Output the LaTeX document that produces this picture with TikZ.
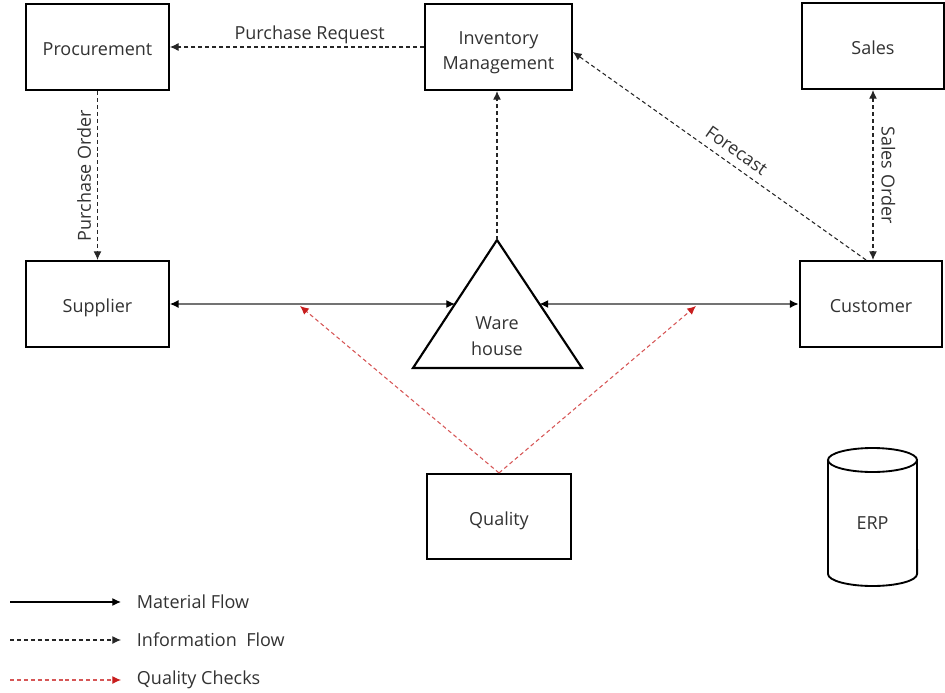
\documentclass[tikz,border=0pt]{standalone}
\usepackage{fontspec}
\setmainfont{Open Sans}
\usepackage{xcolor}
\usepackage{tikz}
\usetikzlibrary{arrows.meta,calc}

\definecolor{qcred}{RGB}{200,30,30}
\definecolor{txtgray}{RGB}{50,50,50}

\begin{document}
\begin{tikzpicture}[x=0.75pt, y=-0.75pt,
  box/.style={rectangle, draw=black, line width=1.6pt, fill=white, align=center,
             minimum width=107pt, minimum height=64.5pt, text height=13pt, text depth=0pt,
             font=\fontsize{13.5}{19}\selectfont, text=txtgray},
  lbl/.style={font=\fontsize{13.5}{16}\selectfont, text=txtgray, inner sep=2pt},
  mat/.style={<->, >={Latex[length=6.5pt,width=6pt,black]}, line width=0.9pt, black!55},
  inf/.style={->, >={Latex[length=6.5pt,width=6pt]}, line width=0.8pt,
             dash pattern=on 3pt off 2.2pt, black!85},
  qc/.style={->, >={Latex[length=6.5pt,width=6pt,qcred]}, line width=0.8pt,
             dash pattern=on 3pt off 2.2pt, qcred!75},
]
\useasboundingbox (0,0) rectangle (945,692);

% --- top row ---
\node[box] (proc) at (97.5,47) {Procurement};
\node[box, minimum width=110pt, text height={}, text depth={}] (inv) at (498.5,47)
  {\raisebox{-3.5pt}[\height][\depth]{\begin{tabular}{@{}c@{}}Inventory\\Management\end{tabular}}};
\node[box] (sales) at (873,46) {Sales};

% --- middle row ---
\node[box] (supp) at (97.5,304) {Supplier};
\node[box] (cust) at (871,304) {Customer};

% --- warehouse ---
\coordinate (whtop) at (497,240);
\coordinate (whbl) at (413,368);
\coordinate (whbr) at (582,368);
\draw[line width=1.6pt] (whtop) -- (whbl) -- (whbr) -- cycle;
\node[lbl, align=center, font=\fontsize{13.5}{19.5}\selectfont] (wh) at (497,336) {Ware\\house};
\coordinate (whL) at ($(whtop)!0.5!(whbl)$);
\coordinate (whR) at ($(whtop)!0.5!(whbr)$);

% --- quality and ERP ---
\node[box, minimum width=108pt, minimum height=63.75pt] (qual) at (499,516.5) {Quality};
\draw[line width=1.4pt] (872.5,460) ellipse [x radius=33.4pt, y radius=9pt];
\draw[line width=1.4pt] (828,460) -- (828,574)
  arc[start angle=180, end angle=360, x radius=33.4pt, y radius=9pt] -- (917,460);
\node[lbl] (erp) at (872.5,523) {ERP};

% --- information flow ---
\draw[inf] (inv.west) -- (proc.east)
      node[lbl, pos=0.45, above] (prlbl) {Purchase Request};
\draw[inf] (proc.south) -- (supp.north)
      node[lbl, midway, rotate=90, anchor=south, inner sep=4.5pt] (polbl) {Purchase Order};
\draw[inf] (whtop) -- (whtop |- inv.south);
\draw[inf] ([xshift=-3.75pt]cust.north) -- ([yshift=-3.75pt]inv.east)
      node[lbl, pos=0.47, sloped, above=3.5pt] (fclbl) {Forecast};
\draw[inf, <->] (sales.south) -- (sales.south |- cust.north)
      node[lbl, midway, rotate=-90, anchor=south, inner sep=6pt] (solbl) {Sales Order};

% --- material flow ---
\draw[mat] (supp.east) -- (supp.east -| whL);
\draw[mat] (whR) -- (cust.west);

% --- quality checks ---
\coordinate (qcL) at (300,306);
\coordinate (qcR) at (696,306);
\draw[qc] (qual.north) -- (qcL);
\draw[qc] (qual.north) -- (qcR);

% --- legend ---
\coordinate (lgm1) at (10,602);  \coordinate (lgm2) at (121,602);
\coordinate (lgi1) at (10,640);  \coordinate (lgi2) at (121,640);
\coordinate (lgq1) at (10,680);  \coordinate (lgq2) at (121,680);
\draw[mat, ->, black] (lgm1) -- (lgm2);
\draw[inf] (lgi1) -- (lgi2);
\draw[qc] (lgq1) -- (lgq2);
\node[lbl, anchor=west] (lgmat) at (134,602) {Material Flow};
\node[lbl, anchor=west] (lginf) at (134,640) {Information\ \ Flow};
\node[lbl, anchor=west] (lgqc) at (134,680) {Quality Checks};

\end{tikzpicture}
\end{document}
